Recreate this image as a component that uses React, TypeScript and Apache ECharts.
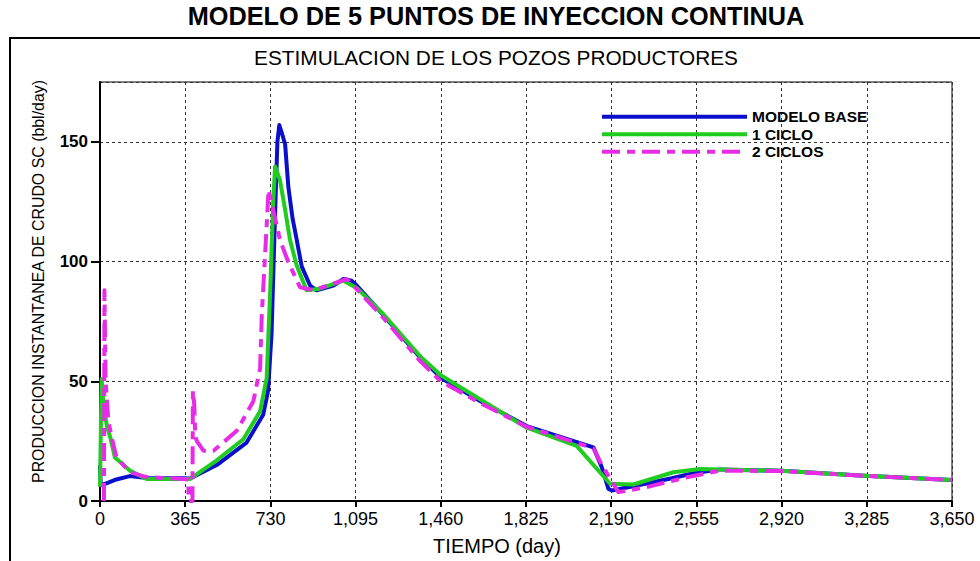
import React, { useEffect, useRef } from "react";
import * as echarts from "echarts";

const FONT = "'Liberation Sans', Arial, sans-serif";

const xTickValues = [0, 365, 730, 1095, 1460, 1825, 2190, 2555, 2920, 3285, 3650];
const yTickValues = [0, 50, 100, 150];

const seriesNames = ["MODELO BASE", "1 CICLO", "2 CICLOS"];

const baseDays = [0, 3, 30, 70, 127, 200, 355, 386, 500, 628, 699, 720, 735, 750, 760, 768, 778, 793, 807, 825, 843, 864, 900, 928, 1000, 1043, 1078, 1100, 1214, 1371, 1460, 1628, 1828, 2114, 2150, 2178, 2192, 2300, 2450, 2542, 2656, 2920, 3256, 3650];
const baseValues = [15, 6.5, 7.5, 9, 10.4, 9.6, 9.5, 9.4, 15, 24.4, 36, 46, 70, 120, 150, 157, 154, 149, 131, 118, 109, 98, 90, 88, 90, 92.7, 92, 90, 77.6, 60, 51.5, 41.8, 31.3, 22.4, 14, 5.1, 4.4, 6.5, 9.5, 11.6, 13.2, 12.6, 10.6, 8.8];

const ciclo1Days = [0, 7, 15, 30, 43, 64, 128, 200, 357, 386, 500, 614, 686, 714, 730, 742, 750, 760, 771, 793, 814, 843, 885, 935, 1043, 1100, 1214, 1371, 1460, 1628, 1828, 2042, 2185, 2285, 2456, 2571, 2920, 3256, 3650];
const ciclo1Values = [6, 51, 40, 31, 27, 18.2, 12.7, 9.2, 9.2, 9.2, 17, 25.8, 37.5, 51.3, 90, 125, 139.7, 137, 134, 121.7, 109, 98.3, 88, 88.5, 92, 89, 78, 60.5, 52.5, 42.5, 30.6, 23, 7.2, 6.9, 12, 13.4, 12.6, 10.6, 8.8];

const ciclo2Days = [17, 19, 24, 36, 50, 71, 128, 200, 357, 378, 380, 396, 398, 404, 408, 415, 443, 486, 586, 657, 686, 693, 700, 714, 722, 742, 771, 807, 857, 914, 1057, 1100, 1214, 1371, 1460, 1628, 1828, 2114, 2150, 2221, 2342, 2514, 2656, 2920, 3256, 3650];
const ciclo2Values = [0, 88, 50, 33.4, 26.5, 18.2, 12, 10, 9.2, 9, 0, 0, 46, 40, 27, 25, 21, 21, 29.3, 41.7, 55.5, 77.6, 90, 115, 130, 121.7, 109, 99.7, 89.3, 88, 92.7, 88.5, 76.5, 58.5, 50, 41, 31, 22, 15, 3.7, 5.8, 9.9, 12.7, 12.5, 10.6, 8.8];

const seriesColors = ["#0a0fcc", "#20cc20", "#e62ce6"];

function zip(xs: number[], ys: number[]) {
  return xs.map((x, i) => [x, ys[i]]);
}

export default function App() {
  const ref = useRef<HTMLDivElement>(null);
  useEffect(() => {
    if (!ref.current) return;
    const chart = echarts.init(ref.current, null, { renderer: "svg" });
    const datasets = [zip(baseDays, baseValues), zip(ciclo1Days, ciclo1Values), zip(ciclo2Days, ciclo2Values)];
    chart.setOption({
      animation: false,
      backgroundColor: "#fff",
      textStyle: { fontFamily: FONT },
      title: [
        {
          text: "MODELO DE 5 PUNTOS DE INYECCION CONTINUA",
          left: 496,
          textAlign: "center",
          top: 3,
          padding: 0,
          textStyle: { fontFamily: FONT, fontSize: 25.3, fontWeight: "bold", color: "#000" },
        },
        {
          text: "ESTIMULACION DE LOS POZOS PRODUCTORES",
          left: 496,
          textAlign: "center",
          top: 47,
          padding: 0,
          textStyle: { fontFamily: FONT, fontSize: 20.8, fontWeight: "normal", color: "#000" },
        },
      ],
      graphic: [
        {
          type: "rect",
          shape: { x: 10, y: 38, width: 1000, height: 600 },
          style: { fill: "none", stroke: "#000", lineWidth: 2 },
          silent: true,
        },
      ],
      legend: {
        orient: "vertical",
        left: 600,
        top: 108,
        padding: 0,
        itemWidth: 145,
        itemHeight: 14,
        itemGap: 0,
        data: seriesNames,
        lineStyle: { width: 4 },
        itemStyle: { opacity: 0 },
        textStyle: { fontFamily: FONT, fontSize: 15.5, lineHeight: 17.5, fontWeight: "bold", color: "#000" },
      },
      grid: {
        left: 100,
        top: 82,
        right: 28,
        bottom: 57,
        show: true,
        borderColor: "#000",
        borderWidth: 1,
        backgroundColor: "transparent",
      },
      xAxis: {
        type: "value",
        min: xTickValues[0],
        max: xTickValues[xTickValues.length - 1],
        interval: 365,
        name: "TIEMPO (day)",
        nameLocation: "middle",
        nameGap: 35,
        nameTextStyle: { fontFamily: FONT, fontSize: 20, color: "#000", padding: [0, 58, 0, 0] },
        axisLine: { lineStyle: { color: "#000", width: 2 } },
        axisTick: { show: true, length: 6, lineStyle: { color: "#000", width: 2 } },
        axisLabel: {
          color: "#000",
          fontSize: 18,
          margin: 9,
          fontFamily: FONT,
          formatter: (v: number) => v.toLocaleString("en-US"),
        },
        splitLine: { show: true, lineStyle: { color: "#333", width: 1, type: [3, 3] } },
      },
      yAxis: {
        type: "value",
        min: yTickValues[0],
        max: 175,
        interval: 50,
        name: "PRODUCCION INSTANTANEA DE CRUDO SC (bbl/day)",
        nameLocation: "middle",
        nameGap: 54,
        nameTextStyle: { fontFamily: FONT, fontSize: 15.9, color: "#000", padding: [0, 0, 0, 20] },
        axisLine: { lineStyle: { color: "#000", width: 2 } },
        axisTick: { show: true, length: 9, lineStyle: { color: "#000", width: 2 } },
        axisLabel: {
          color: "#000",
          fontSize: 17,
          fontWeight: "bold",
          margin: 12,
          fontFamily: FONT,
          showMaxLabel: false,
          formatter: (v: number) => (yTickValues.includes(v) ? String(v) : ""),
        },
        splitLine: { show: true, lineStyle: { color: "#333", width: 1, type: [3, 3] } },
      },
      series: seriesNames.map((name, i) => ({
        name,
        type: "line",
        data: datasets[i],
        symbol: "none",
        z: 2 + i,
        color: seriesColors[i],
        lineStyle: {
          color: seriesColors[i],
          width: 4,
          type: i === 2 ? [18, 7, 8, 7] : "solid",
          cap: "butt",
          join: "round",
        },
      })),
    });
    return () => chart.dispose();
  }, []);
  return <div ref={ref} style={{ position: "fixed", left: 0, top: 0, width: 980, height: 561 }} />;
}
